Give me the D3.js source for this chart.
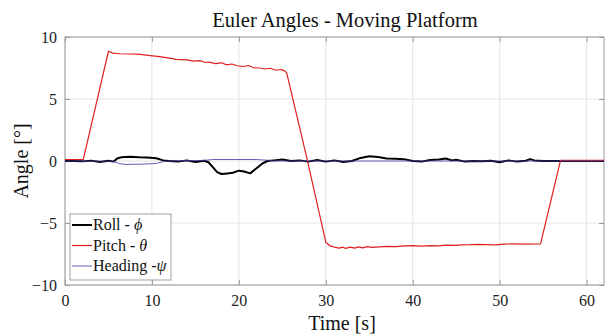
<!DOCTYPE html>
<html>
<head>
<meta charset="utf-8">
<script src="https://cdn.jsdelivr.net/npm/d3@7"></script>
<style>
  body { margin: 0; background: #fff; }
  svg { display: block; }
  svg text { font-family: 'Liberation Serif', 'DejaVu Serif', serif; }
</style>
</head>
<body>
<div id="chart"></div>
<script>
// data (time in s, angle in deg)
const pitchT = [0, 2.1, 5.0, 5.5, 6.3, 8.4, 9.8, 10.9, 12.0, 12.8, 14.0, 14.8, 15.5, 16.0, 16.7, 17.3, 18.0, 18.6, 19.2, 19.8, 20.5, 21.1, 21.7, 22.4, 23.0, 23.6, 24.3, 24.9, 25.3, 25.5, 27.8, 30.0, 30.5, 31.0, 31.5, 32.0, 32.3, 32.8, 33.3, 33.8, 34.2, 34.8, 35.3, 36.2, 37.0, 38.1, 39.0, 40.0, 41.0, 41.9, 43.0, 43.8, 44.8, 45.7, 46.6, 47.6, 48.5, 49.5, 50.5, 51.4, 53.0, 54.7, 57.0, 62];
const pitchV = [0.12, 0.12, 8.85, 8.7, 8.65, 8.62, 8.5, 8.42, 8.3, 8.2, 8.15, 8.05, 8.1, 7.98, 7.95, 7.85, 7.92, 7.75, 7.82, 7.68, 7.62, 7.7, 7.52, 7.5, 7.42, 7.48, 7.32, 7.38, 7.25, 7.1, 0.3, -6.55, -6.85, -6.95, -7.02, -6.95, -7.05, -6.95, -7.03, -6.92, -7.0, -6.9, -6.97, -6.92, -6.88, -6.9, -6.84, -6.83, -6.86, -6.82, -6.85, -6.78, -6.8, -6.76, -6.75, -6.72, -6.74, -6.77, -6.7, -6.69, -6.7, -6.68, 0.05, 0.05];

const rollT = [0, 1, 2, 3, 4, 5, 5.6, 6.0, 6.5, 7.5, 8.5, 9.5, 10.5, 11.3, 12, 13, 14, 15, 16, 16.5, 17, 17.5, 18, 18.7, 19.3, 20, 20.6, 21.3, 22, 22.7, 23.3, 24, 25, 26, 27, 28, 29, 30, 31, 32, 33, 34, 35, 36, 37, 38, 39, 40, 41, 42, 43, 43.8, 44.5, 45, 46, 47, 48, 49, 50, 51, 52, 53, 53.5, 54, 55, 62];
const rollV = [0, 0, -0.03, 0.03, -0.08, 0.02, -0.05, 0.2, 0.3, 0.35, 0.3, 0.28, 0.22, 0.05, 0, -0.05, 0.05, -0.08, 0.02, -0.1, -0.5, -0.9, -1.05, -1.0, -0.95, -0.78, -0.85, -1.0, -0.6, -0.2, 0, 0.05, 0.12, 0, 0.05, -0.05, 0.08, -0.05, 0.05, -0.08, 0, 0.25, 0.38, 0.32, 0.2, 0.18, 0.15, 0, -0.05, 0.08, 0.12, 0.2, 0.05, 0.1, -0.05, 0, -0.03, 0.02, -0.1, 0.05, -0.05, 0.02, 0.15, 0.05, 0, 0];

const headT = [0, 5.5, 6.2, 7, 9, 10.5, 11.3, 12, 16, 17, 22, 23.5, 24, 62];
const headV = [0, -0.02, -0.2, -0.28, -0.25, -0.2, -0.05, 0, 0.05, 0.12, 0.12, 0.05, 0, 0];

const xTicks = [0, 10, 20, 30, 40, 50, 60];
const yTicks = [-10, -5, 0, 5, 10];

const series = [
  {name: "Roll - ", sym: "\u03d5", t: rollT, v: rollV, color: "#000000", w: 2},
  {name: "Pitch - ", sym: "\u03b8", t: pitchT, v: pitchV, color: "#e02020", w: 1.2},
  {name: "Heading -", sym: "\u03c8", t: headT, v: headV, color: "#3a3aa8", w: 0.8}
];

const W = 608, H = 336;
const margin = {top: 37, right: 4, bottom: 51, left: 65};
const width = W - margin.left - margin.right;
const height = H - margin.top - margin.bottom;

const svg = d3.select("#chart").append("svg")
  .attr("width", W).attr("height", H);
const g = svg.append("g").attr("transform", `translate(${margin.left},${margin.top})`);

const x = d3.scaleLinear().domain([0, 62]).range([0, width]);
const y = d3.scaleLinear().domain([-10, 10]).range([height, 0]);

// grid
g.append("g").selectAll("line").data(xTicks).enter().append("line")
  .attr("x1", d => x(d)).attr("x2", d => x(d)).attr("y1", 0).attr("y2", height)
  .attr("stroke", "#e4e4e4").attr("stroke-width", 1);
g.append("g").selectAll("line").data(yTicks).enter().append("line")
  .attr("x1", 0).attr("x2", width).attr("y1", d => y(d)).attr("y2", d => y(d))
  .attr("stroke", "#e4e4e4").attr("stroke-width", 1);

// axes (inward ticks, box)
const axisColor = "#9a9a9a";
function styleAxis(sel) {
  sel.attr("font-size", 16);
  sel.select(".domain").remove();
  sel.selectAll(".tick line").attr("stroke", axisColor);
  sel.selectAll(".tick text").attr("fill", "#222");
}
g.append("g").attr("transform", `translate(0,${height})`)
  .call(d3.axisBottom(x).tickValues(xTicks).tickSizeInner(-5).tickSizeOuter(0).tickPadding(10))
  .call(styleAxis);
g.append("g")
  .call(d3.axisTop(x).tickValues(xTicks).tickSizeInner(-5).tickSizeOuter(0).tickFormat(""))
  .call(styleAxis);
g.append("g")
  .call(d3.axisLeft(y).tickValues(yTicks).tickSizeInner(-5).tickSizeOuter(0).tickPadding(8))
  .call(styleAxis);
g.append("g").attr("transform", `translate(${width},0)`)
  .call(d3.axisRight(y).tickValues(yTicks).tickSizeInner(-5).tickSizeOuter(0).tickFormat(""))
  .call(styleAxis);
g.append("rect").attr("width", width).attr("height", height)
  .attr("fill", "none").attr("stroke", axisColor).attr("stroke-width", 1);

// lines
g.append("clipPath").attr("id", "clip").append("rect").attr("width", width).attr("height", height);
const line = d3.line().x(d => x(d[0])).y(d => y(d[1]));
series.forEach(s => {
  const pts = s.t.map((t, i) => [t, s.v[i]]);
  g.append("path").datum(pts)
    .attr("clip-path", "url(#clip)")
    .attr("fill", "none")
    .attr("stroke", s.color)
    .attr("stroke-width", s.w)
    .attr("stroke-linejoin", "round")
    .attr("d", line);
});

// legend
const lg = svg.append("g").attr("transform", "translate(70,214)");
lg.append("rect").attr("width", 101).attr("height", 66)
  .attr("fill", "#fff").attr("stroke", "#a0a0a0").attr("stroke-width", 1);
series.forEach((s, i) => {
  const yy = 11 + i * 20.5;
  lg.append("line").attr("x1", 2).attr("x2", 22).attr("y1", yy).attr("y2", yy)
    .attr("stroke", s.color).attr("stroke-width", s.w);
  const tx = lg.append("text").attr("x", 23).attr("y", yy + 5)
    .attr("font-size", 16).attr("fill", "#111");
  tx.append("tspan").text(s.name);
  tx.append("tspan").attr("font-style", "italic").text(s.sym);
});

// title and axis labels (slightly right of the plot centre, as in the original)
svg.append("text").attr("x", 345).attr("y", 27)
  .attr("text-anchor", "middle")
  .attr("font-size", 20.5).attr("fill", "#111")
  .text("Euler Angles - Moving Platform");
svg.append("text").attr("x", 342).attr("y", 330)
  .attr("text-anchor", "middle")
  .attr("font-size", 20).attr("fill", "#111")
  .text("Time [s]");
svg.append("text").attr("transform", `translate(28,${margin.top + height / 2}) rotate(-90)`)
  .attr("text-anchor", "middle")
  .attr("font-size", 20).attr("fill", "#111")
  .text("Angle [\u00b0]");
</script>
</body>
</html>
